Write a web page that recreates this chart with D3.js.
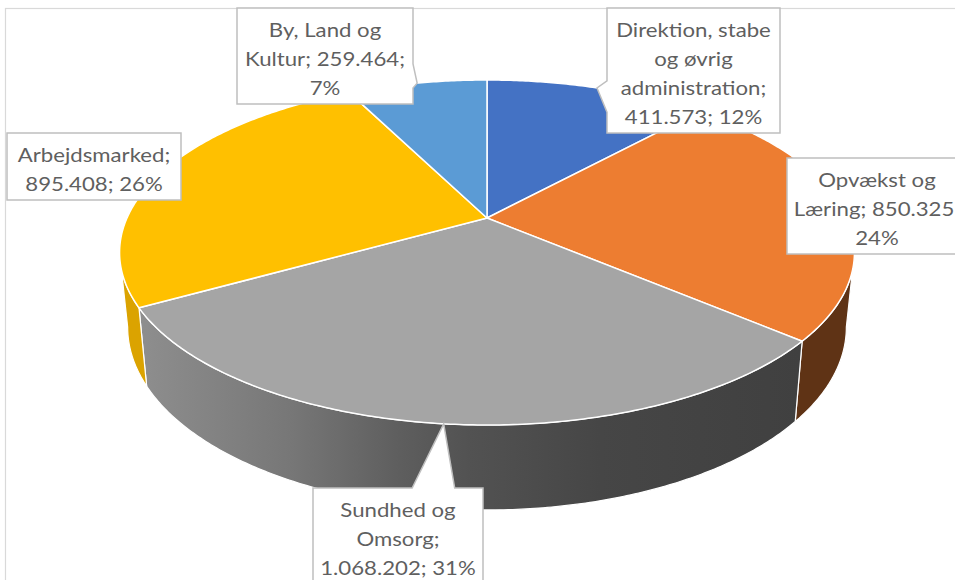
<!DOCTYPE html>
<html>
<head>
<meta charset="utf-8">
<script src="https://cdn.jsdelivr.net/npm/d3@7"></script>
<style>
  body { margin: 0; background: #fff; }
  svg { display: block; }
  text { font-family: Lato, "Open Sans", sans-serif; font-size: 18.5px; fill: #5f5f5f; }
</style>
</head>
<body>
<svg width="955" height="580"></svg>
<script>
// data
const categories = ["Direktion, stabe og øvrig administration", "Opvækst og Læring", "Sundhed og Omsorg", "Arbejdsmarked", "By, Land og Kultur"];
const values = [411573, 850325, 1068202, 895408, 259464];
const topColors = ["#4472c4", "#ed7d31", "#a5a5a5", "#ffc000", "#5b9bd5"];
const sideColors = ["#2f5597", "#5f3315", "url(#grayWall)", "#dba300", "#41719c"];
const labelLines = [
  ["Direktion, stabe", "og øvrig", "administration;", "411.573; 12%"],
  ["Opvækst og", "Læring; 850.325;", "24%"],
  ["Sundhed og", "Omsorg;", "1.068.202; 31%"],
  ["Arbejdsmarked;", "895.408; 26%"],
  ["By, Land og", "Kultur; 259.464;", "7%"]
];

// label boxes: left, top, width (height comes from line count)
const labelBoxes = [
  {x: 607, y: 8, w: 173},
  {x: 787, y: 158, w: 180},
  {x: 313, y: 488, w: 170},
  {x: 7, y: 133, w: 174},
  {x: 237, y: 8, w: 176}
];

const svg = d3.select("svg");

// chart area border
svg.append("rect")
  .attr("x", 5.5).attr("y", 8.5)
  .attr("width", 1200).attr("height", 1200)
  .attr("fill", "none").attr("stroke", "#d9d9d9").attr("stroke-width", 1.2);

// 3d pie projection (perspective, tilted)
const cx = 487, cy = 218, A = 360, B = 165.6, K = 0.2;
const depth = 72, depthK = 0.18, shrink = 0.978;

function topPt(a) {
  let u = Math.sin(a), v = Math.cos(a), d = 1 + K * v;
  return [cx + A * u / d, cy - B * v / d];
}
function botPt(a) {
  let p = topPt(a), v = Math.cos(a);
  return [cx + (p[0] - cx) * shrink, p[1] + depth * (1 - depthK * v)];
}
function arcPts(a0, a1, fn) {
  let n = Math.max(2, Math.ceil((a1 - a0) / 0.01));
  return d3.range(n + 1).map(i => fn(a0 + (a1 - a0) * i / n));
}

const pie = d3.pie().sort(null).value(d => d)(values);
const line = d3.line();

// gradient for the grey wall
const grad = svg.append("defs").append("linearGradient")
  .attr("id", "grayWall")
  .attr("gradientUnits", "userSpaceOnUse")
  .attr("x1", 140).attr("x2", 800).attr("y1", 0).attr("y2", 0);
const gx = d3.scaleLinear().domain([140, 800]).range([0, 1]);
[[140, "#8e8e8e"], [290, "#777777"], [400, "#5e5e5e"], [470, "#525252"], [600, "#464646"], [800, "#404040"]]
  .forEach(s => grad.append("stop").attr("offset", gx(s[0])).attr("stop-color", s[1]));

// visible front range of the outer wall
const visMin = Math.PI / 2 + Math.asin(K), visMax = 2 * Math.PI - visMin;

const walls = svg.append("g");
pie.forEach((d, i) => {
  let a0 = Math.max(d.startAngle, visMin), a1 = Math.min(d.endAngle, visMax);
  if (a1 <= a0) return;
  let pts = arcPts(a0, a1, topPt).concat(arcPts(a0, a1, botPt).reverse());
  walls.append("path")
    .attr("d", line(pts) + "Z")
    .attr("fill", sideColors[i])
    .attr("stroke", "#fff").attr("stroke-width", 1.2)
    .attr("stroke-linejoin", "round");
});

const tops = svg.append("g");
pie.forEach((d, i) => {
  let pts = [[cx, cy]].concat(arcPts(d.startAngle, d.endAngle, topPt));
  tops.append("path")
    .attr("d", line(pts) + "Z")
    .attr("fill", topColors[i])
    .attr("stroke", "#fff").attr("stroke-width", 1.5)
    .attr("stroke-linejoin", "round");
});

// callout boxes (wedge rect callout like Office)
function callout(b, tip) {
  let x0 = b.x, y0 = b.y, x1 = b.x + b.w, y1 = b.y + b.h, w = b.w, h = b.h;
  let rect = `M${x0},${y0}L${x1},${y0}L${x1},${y1}L${x0},${y1}Z`;
  if (tip[0] >= x0 && tip[0] <= x1 && tip[1] >= y0 && tip[1] <= y1) return rect;
  let dx = tip[0] - (x0 + w / 2), dy = tip[1] - (y0 + h / 2);
  let dq = dx * h / w;
  let xa = x0 + w * (dx > 0 ? 7 : 2) / 12, xb = x0 + w * (dx > 0 ? 10 : 5) / 12;
  let ya = y0 + h * (dy > 0 ? 7 : 2) / 12, yb = y0 + h * (dy > 0 ? 10 : 5) / 12;
  let t = `${tip[0]},${tip[1]}`;
  if (Math.abs(dy) > Math.abs(dq)) {
    if (dy < 0) return `M${x0},${y0}L${xa},${y0}L${t}L${xb},${y0}L${x1},${y0}L${x1},${y1}L${x0},${y1}Z`;
    return `M${x0},${y0}L${x1},${y0}L${x1},${y1}L${xb},${y1}L${t}L${xa},${y1}L${x0},${y1}Z`;
  }
  if (dx < 0) return `M${x0},${y0}L${x1},${y0}L${x1},${y1}L${x0},${y1}L${x0},${yb}L${t}L${x0},${ya}Z`;
  return `M${x0},${y0}L${x1},${y0}L${x1},${ya}L${t}L${x1},${yb}L${x1},${y1}L${x0},${y1}Z`;
}

const lineH = 29;
const labels = svg.append("g");
pie.forEach((d, i) => {
  let lines = labelLines[i];
  let b = Object.assign({h: lines.length * lineH + 9}, labelBoxes[i]);
  let tip = topPt((d.startAngle + d.endAngle) / 2);
  let g = labels.append("g");
  g.append("path")
    .attr("d", callout(b, tip))
    .attr("fill", "#fff")
    .attr("stroke", "#bfbfbf").attr("stroke-width", 1.5)
    .attr("stroke-linejoin", "miter");
  lines.forEach((t, j) => {
    g.append("text")
      .attr("transform", `translate(${b.x + b.w / 2},${b.y + 22 + j * lineH}) scale(1.2,1)`)
      .attr("text-anchor", "middle")
      .attr("dy", "0.36em")
      .text(t);
  });
});
</script>
</body>
</html>
